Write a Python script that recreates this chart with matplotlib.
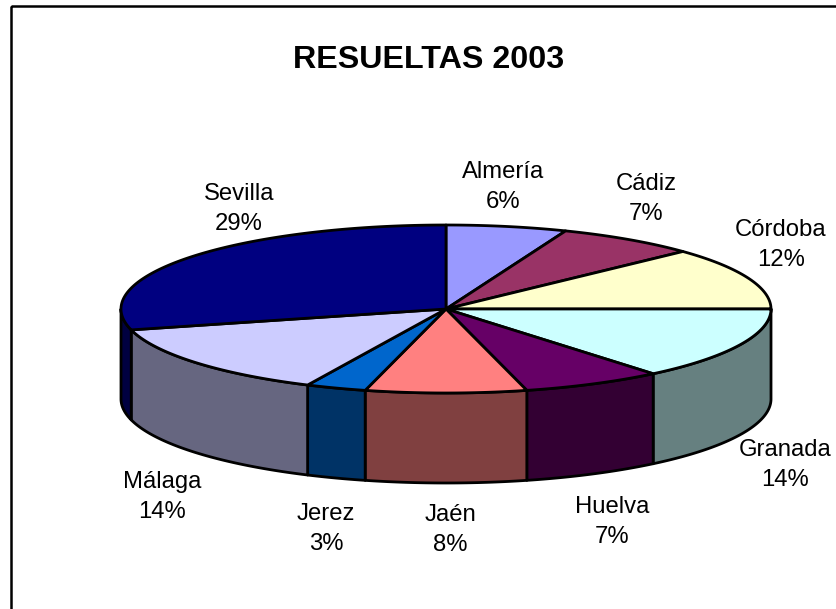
import numpy as np
import matplotlib
matplotlib.use("Agg")
import matplotlib.pyplot as plt
from matplotlib.patches import Polygon, Rectangle

plt.rcParams['font.family'] = ['Liberation Sans', 'DejaVu Sans']

categories = ['Almería', 'Cádiz', 'Córdoba', 'Granada', 'Huelva', 'Jaén', 'Jerez', 'Málaga', 'Sevilla']
shares = [6, 7, 12, 14, 7, 8, 3, 14, 29]
top_colors = ['#9999FF', '#993366', '#FFFFCC', '#CCFFFF', '#660066', '#FF8080', '#0066CC', '#CCCCFF', '#000080']
side_colors = ['#666699', '#4D1A33', '#808066', '#668080', '#330033', '#804040', '#003366', '#666680', '#000040']
title = 'RESUELTAS 2003'

CX, CY, RX, RY, DEPTH = 446, 309, 325, 84, 90
label_xy = [(503, 186), (646, 198), (781, 244), (785, 464), (612, 521),
            (450, 529), (326, 528), (162, 496), (239, 208)]

W, H = 837, 609
fig = plt.figure(figsize=(W / 100, H / 100), dpi=100, facecolor='white')
ax = fig.add_axes([0, 0, 1, 1])
ax.set_xlim(0, W)
ax.set_ylim(H, 0)
ax.axis('off')

# Chart border: left and top are visible, the rest is cropped away
ax.add_patch(Rectangle((11, 6), W + 20, H + 20, fill=False, ec='black', lw=1.8, zorder=1))


def arc(a0, a1, dy=0.0):
    t = np.radians(np.linspace(a0, a1, max(int(abs(a1 - a0) * 2), 2)))
    return np.column_stack([CX + RX * np.sin(t), CY + dy - RY * np.cos(t)])


edges = np.concatenate([[0], np.cumsum(shares)]) / np.sum(shares) * 360
LW = 2.0
for i in range(len(shares)):
    a0, a1 = edges[i], edges[i + 1]
    lo, hi = max(a0, 90), min(a1, 270)
    if lo < hi:
        pts = np.vstack([arc(lo, hi), arc(hi, lo, DEPTH)])
        ax.add_patch(Polygon(pts, closed=True, fc=side_colors[i], ec='black', lw=LW,
                             joinstyle='round', zorder=2))
for i in range(len(shares)):
    pts = np.vstack([[[CX, CY]], arc(edges[i], edges[i + 1])])
    ax.add_patch(Polygon(pts, closed=True, fc=top_colors[i], ec='black', lw=LW,
                         joinstyle='round', zorder=3))

for name, share, (x, y) in zip(categories, shares, label_xy):
    ax.text(x, y + 1, f'{name}\n{share}%', ha='center', va='center', fontsize=17.2,
            linespacing=1.42, color='black', zorder=4)

ax.text(429, 60, title, ha='center', va='center', fontsize=23.2, fontweight='bold', color='black', zorder=4)

fig.savefig('out.png', dpi=100, facecolor='white')
